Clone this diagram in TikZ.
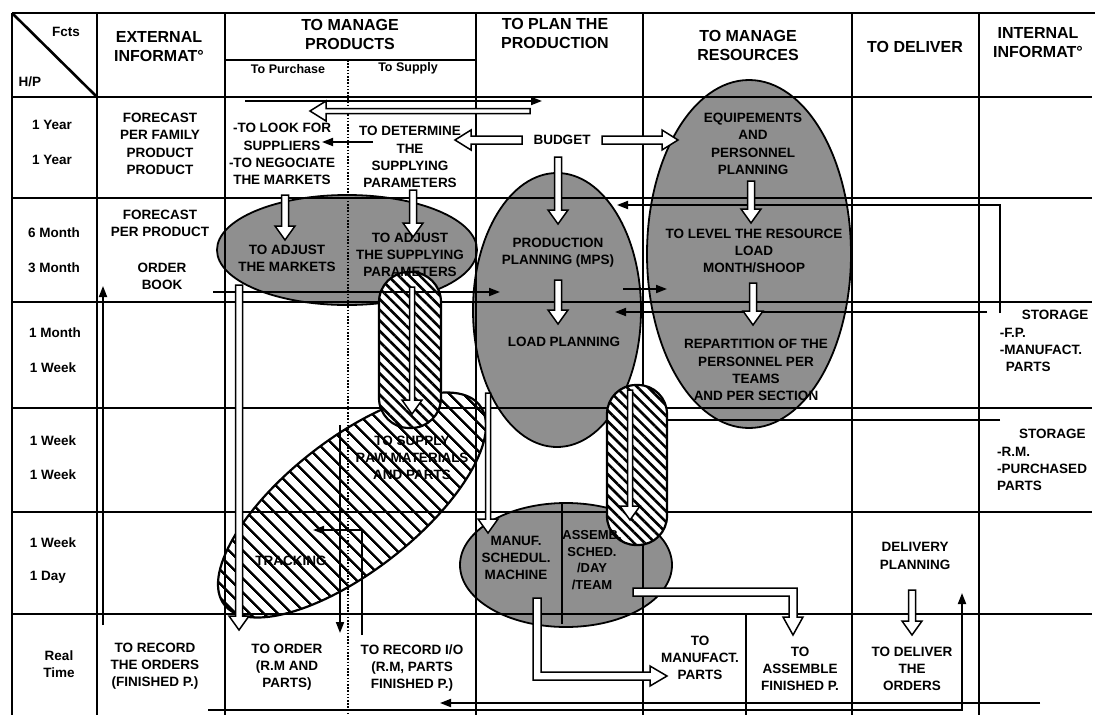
\documentclass[tikz,border=0pt]{standalone}
\usepackage{fontspec}
\setmainfont{Liberation Sans}
\usetikzlibrary{arrows.meta,patterns.meta,calc}

% vertical hollow arrow: [shaft width]{x}{y from}{y to}
\newcommand\vhollow[4][7]{%
  \pgfmathsetmacro\hb{#4>#3 ? #4-14 : #4+14}%
  \draw[hollow] (#2-#1/2,#3) -- (#2-#1/2,\hb) -- (#2-10,\hb) -- (#2,#4)
    -- (#2+10,\hb) -- (#2+#1/2,\hb) -- (#2+#1/2,#3) -- cycle;}
% horizontal hollow arrow: [shaft width]{y}{x from}{x to}
\newcommand\hhollow[4][7]{%
  \pgfmathsetmacro\hb{#4>#3 ? #4-16 : #4+16}%
  \draw[hollow] (#3,#2-#1/2) -- (\hb,#2-#1/2) -- (\hb,#2-10) -- (#4,#2)
    -- (\hb,#2+10) -- (\hb,#2+#1/2) -- (#3,#2+#1/2) -- cycle;}

\tikzset{
  gridline/.style={line width=2.6pt},
  txt/.style={font=\bfseries\fontsize{13.5}{17.3}\selectfont, align=center, inner sep=0pt},
  head/.style={font=\bfseries\fontsize{16}{19}\selectfont, align=center, inner sep=0pt},
  sub/.style={font=\bfseries\fontsize{12.5}{15}\selectfont, inner sep=0pt},
  stipple/.style={fill=black!44, draw=black, line width=1.8pt},
  hatchbig/.style={draw=black, line width=2.2pt, preaction={fill=white},
    pattern={Lines[angle=-45,distance=10.5pt,line width=2.8pt]}},
  hatchpill/.style={draw=black, line width=2.2pt, preaction={fill=white},
    pattern={Lines[angle=-45,distance=7.5pt,line width=2.6pt]}},
  flow/.style={line width=1.9pt, -{Triangle[length=11pt,width=8pt]}},
  plainflow/.style={line width=1.9pt},
  hollow/.style={draw=black, fill=white, line width=1.5pt, line join=miter},
}

\begin{document}
\begin{tikzpicture}[x=1pt,y=-1pt]
\useasboundingbox (0,0) rectangle (1095,715);
\fill[white] (0,0) rectangle (1095,715);

% ---- decision centres (stippled) ----
\draw[stipple] (347,250) ellipse [x radius=130, y radius=55];
\draw[stipple] (557,310) ellipse [x radius=84, y radius=137];
\draw[stipple] (749,254) ellipse [x radius=102, y radius=174];
\draw[stipple] (566,565) ellipse [x radius=106, y radius=62];
\draw[line width=1.6pt] (562,503) -- (562,624);

% ---- hatched decision frame ----
\begin{scope}[shift={(352,505)}, rotate=38]
  \draw[hatchbig] (0,0) ellipse [x radius=162, y radius=66];
\end{scope}

% ---- grid ----
\draw[gridline] (12,13) -- (1095,13);
\foreach \yy in {97,198,302,408,512,614}
  \draw[gridline] (12,\yy) -- (1092,\yy);
\foreach \xx in {12,97,225,476,643,852,979}
  \draw[gridline] (\xx,13) -- (\xx,715);
\draw[gridline] (746,614) -- (746,715);
\draw[gridline] (225,60) -- (476,60);
\draw[line width=2pt, dash pattern=on 1.6pt off 1.6pt] (348,60) -- (348,715);
\draw[gridline] (12,13) -- (97,97);

% ---- hatched pills ----
\draw[hatchpill, rounded corners=30pt] (379,272) rectangle (441,428);
\draw[hatchpill, rounded corners=29pt] (607,385) rectangle (667,545);

% ---- information flows ----
\draw[flow] (245,101) -- (542,101);
\hhollow[5]{111}{530}{310}
\draw[flow] (373,142) -- (322,142);
\draw[flow] (213,292) -- (500,292);
\draw[flow] (623,289) -- (667,289);
\draw[flow] (1000,313) -- (1000,205) -- (617,205);
\draw[flow] (987,312) -- (615,312);
\draw[plainflow] (1000,420) -- (667,420);
\draw[flow] (103,625) -- (103,286);
\draw[flow] (340,425) -- (340,633);
\draw[flow] (362,635) -- (362,530) -- (313,530);
\draw[flow] (208,710) -- (962,710) -- (962,593);
\draw[flow] (1040,703) -- (440,703);

% ---- decision flows ----
\hhollow[8]{140}{522}{455}
\hhollow[8]{140}{602}{678}
\vhollow{558}{157}{224}
\vhollow{285}{195}{240}
\vhollow{413}{190}{237}
\vhollow{751}{181}{223}
\vhollow{753}{283}{325}
\vhollow{558}{280}{324}
\vhollow[5]{412}{287}{414}
\vhollow[5]{630}{390}{520}
\vhollow{239}{285}{630}
\vhollow[5]{488}{393}{533}
\vhollow{912}{590}{635}
\draw[hollow] (533,598) -- (533,680) -- (650,680) -- (650,686) -- (667,676)
  -- (650,666) -- (650,672) -- (541,672) -- (541,598) -- cycle;
\draw[hollow] (633,588) -- (797,588) -- (797,617) -- (803,617) -- (793,635)
  -- (783,617) -- (789,617) -- (789,596) -- (633,596) -- cycle;

% ---- headings ----
\node[txt] (fcts) at (66,32) {Fcts};
\node[txt] (hp) at (30,82) {H/P};
\node[head] (ext) at (159,47) {EXTERNAL\\INFORMAT°};
\node[head] (mp) at (350,34) {TO MANAGE\\PRODUCTS};
\node[sub] (pur) at (288,69) {To Purchase};
\node[sub] (sup) at (408,68) {To Supply};
\node[head] (pp) at (555,33) {TO PLAN THE\\PRODUCTION};
\node[head] (mr) at (748,45) {TO MANAGE\\RESOURCES};
\node[head] (dl) at (915,47) {TO DELIVER};
\node[head] (int) at (1038,43) {INTERNAL\\INFORMAT°};

% ---- horizons / periods ----
\node[txt] (h1) at (52,125) {1 Year};
\node[txt] (p1) at (52,160) {1 Year};
\node[txt] (h2) at (54,233) {6 Month};
\node[txt] (p2) at (54,268) {3 Month};
\node[txt] (h3) at (55,333) {1 Month};
\node[txt] (p3) at (53,368) {1 Week};
\node[txt] (h4) at (53,441) {1 Week};
\node[txt] (p4) at (53,475) {1 Week};
\node[txt] (h5) at (53,543) {1 Week};
\node[txt] (p5) at (48,577) {1 Day};
\node[txt] (rt) at (59,664) {Real\\Time};

% ---- cell contents ----
\node[txt] (fam) at (160,144) {FORECAST\\PER FAMILY\\PRODUCT\\PRODUCT};
\node[txt] (fpp) at (160,223) {FORECAST\\PER PRODUCT};
\node[txt] (ob) at (162,276) {ORDER\\BOOK};
\node[txt] (look) at (282,154) {-TO LOOK FOR\\SUPPLIERS\\-TO NEGOCIATE\\THE MARKETS};
\node[txt] (det) at (410,157) {TO DETERMINE\\THE\\SUPPLYING\\PARAMETERS};
\node[txt] (bud) at (562,140) {BUDGET};
\node[txt] (eq) at (753,144) {EQUIPEMENTS\\AND\\PERSONNEL\\PLANNING};
\node[txt] (adjm) at (287,258) {TO ADJUST\\THE MARKETS};
\node[txt] (adjs) at (410,255) {TO ADJUST\\THE SUPPLYING\\PARAMETERS};
\node[txt] (mps) at (558,253) {PRODUCTION\\PLANNING (MPS)};
\node[txt] (lev) at (754,251) {TO LEVEL THE RESOURCE\\LOAD\\MONTH/SHOOP};
\node[txt] (load) at (564,342) {LOAD PLANNING};
\node[txt] (rep) at (756,370) {REPARTITION OF THE\\PERSONNEL PER\\TEAMS\\AND PER SECTION};
\node[txt, align=left] (sto1) at (1044,341) {\hspace*{22pt}STORAGE\\-F.P.\\-MANUFACT.\\\hspace*{6pt}PARTS};
\node[txt] (rawm) at (412,458) {TO SUPPLY\\RAW MATERIALS\\AND PARTS};
\node[txt, align=left] (sto2) at (1042,460) {\hspace*{22pt}STORAGE\\-R.M.\\-PURCHASED\\PARTS};
\node[txt] (trk) at (291,561) {TRACKING};
\node[txt] (man) at (516,558) {MANUF.\\SCHEDUL.\\MACHINE};
\node[txt, font=\bfseries\fontsize{13}{16.5}\selectfont] (asb) at (592,560) {ASSEMB.\\SCHED.\\/DAY\\/TEAM};
\node[txt] (dp) at (915,556) {DELIVERY\\PLANNING};
\node[txt] (rec) at (155,666) {TO RECORD\\THE ORDERS\\(FINISHED P.)};
\node[txt] (ord) at (287,667) {TO ORDER\\(R.M AND\\PARTS)};
\node[txt] (io) at (412,668) {TO RECORD I/O\\(R.M, PARTS\\FINISHED P.)};
\node[txt] (mf) at (700,658) {TO\\MANUFACT.\\PARTS};
\node[txt] (as) at (800,669) {TO\\ASSEMBLE\\FINISHED P.};
\node[txt] (dv) at (912,669) {TO DELIVER\\THE\\ORDERS};
\end{tikzpicture}
\end{document}
